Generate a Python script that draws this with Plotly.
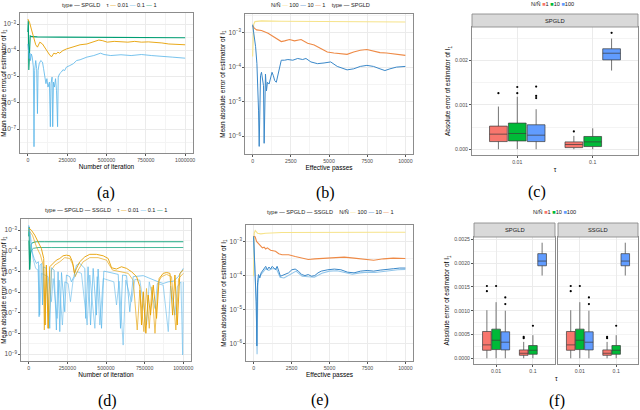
# Six-panel figure: SPGLD / SSGLD error curves (log scale) and boxplots of the absolute error
import plotly.graph_objects as go

FONT = "Liberation Sans, Arial, sans-serif"

# ---------------- data (x, log10 of error) ----------------
# (a) SPGLD, colour = tau
a_t001_x = [0, 11000, 22000, 35000, 50000, 61000, 76000, 93000, 108000, 126000, 141000, 152000, 165000, 180000,
            191000, 202000, 223000, 245000, 289000, 332000, 375000, 419000, 451000, 473000, 505000, 549000, 592000,
            636000, 679000, 722000, 766000, 809000, 852000, 896000, 939000, 1000000]
a_t001_y = [-2.81, -2.94, -3.19, -3.44, -3.79, -3.88, -3.69, -3.76, -3.91, -4.07, -4.20, -4.24, -4.11, -4.14,
            -4.07, -4.11, -4.01, -3.95, -3.86, -3.79, -3.76, -3.66, -3.61, -3.63, -3.69, -3.66, -3.67,
            -3.69, -3.66, -3.69, -3.68, -3.69, -3.72, -3.76, -3.78, -3.79]
a_t01_x = [0, 4000, 9000, 13000, 17000, 22000, 28000, 35000, 39000, 43000, 50000, 56000, 61000, 65000, 72000,
           82000, 93000, 100000, 108000, 115000, 121000, 128000, 137000, 143000, 147000, 154000, 158000, 163000,
           169000, 176000, 182000, 189000, 193000, 202000, 213000, 223000, 234000, 245000, 267000, 289000, 310000,
           332000, 375000, 419000, 462000, 484000, 527000, 592000, 657000, 722000, 787000, 852000, 918000, 1000000]
a_t01_y = [-3.76, -4.01, -4.32, -4.11, -4.39, -4.14, -4.26, -4.64, -7.67, -4.77, -4.39, -4.70, -6.41, -4.77, -4.51,
           -4.39, -4.45, -4.70, -5.02, -5.27, -5.08, -5.40, -5.21, -6.91, -5.27, -5.02, -6.91, -5.21,
           -5.40, -5.08, -5.52, -6.91, -5.02, -4.89, -4.83, -4.74, -4.77, -4.64, -4.58, -4.51, -4.39,
           -4.36, -4.26, -4.20, -4.11, -4.16, -4.20, -4.17, -4.20, -4.16, -4.20, -4.24, -4.26, -4.30]
a_t1_x = [0, 3000, 6000, 10000, 15000, 25000, 60000, 200000, 400000, 600000, 800000, 1000000]
a_t1_y = [-3.30, -2.87, -4.75, -3.70, -3.45, -3.48, -3.49, -3.50, -3.50, -3.51, -3.52, -3.52]

# (b) SPGLD, colour = N / N~
b_r100_x = [0, 65, 150, 580, 1875, 4030, 6185, 8340, 10000]
b_r100_y = [-3.69, -2.77, -2.68, -2.66, -2.67, -2.68, -2.68, -2.69, -2.69]
b_r1_x = [0, 108, 260, 580, 1010, 1335, 1550, 1875, 2090, 2415, 2740, 3170, 3600, 4030, 4460, 4890, 5320, 5750,
          6185, 6615, 7050, 7480, 7910, 8340, 8770, 9200, 9630, 10000]
b_r1_y = [-2.80, -2.87, -2.92, -2.94, -3.02, -3.12, -3.17, -3.26, -3.24, -3.20, -3.24, -3.20, -3.31, -3.36, -3.46,
          -3.56, -3.59, -3.61, -3.63, -3.56, -3.51, -3.49, -3.53, -3.58, -3.59, -3.61, -3.64, -3.66]
b_r10_x = [0, 108, 194, 280, 345, 388, 430, 475, 517, 580, 625, 668, 711, 754, 797, 840, 905, 970, 1078, 1185,
           1270, 1357, 1444, 1550, 1660, 1767, 1875, 2090, 2306, 2630, 2950, 3275, 3490, 3815, 4245, 4675, 5110,
           5540, 5860, 6185, 6615, 7050, 7480, 7910, 8340, 8660, 8990, 9420, 10000]
b_r10_y = [-2.77, -3.12, -3.41, -3.90, -4.49, -5.27, -6.30, -4.98, -4.25, -4.15, -4.29, -4.39, -4.54, -6.21, -4.29,
           -4.20, -4.69, -4.44, -4.49, -4.29, -4.15, -4.25, -4.39, -4.44, -4.25, -4.00, -3.80, -3.80, -3.78, -3.80,
           -3.75, -3.78, -3.75, -3.85, -3.90, -3.88, -3.85, -3.98, -4.02, -4.08, -4.05, -3.98, -3.95, -3.98, -4.05,
           -4.10, -4.05, -4.00, -3.98]

# (d) SPGLD and SSGLD, colour = tau
d_t1_sp_x = [0, 3000, 6000, 10000, 15000, 25000, 50000, 100000, 300000, 500000, 700000, 1000000]
d_t1_sp_y = [-3.30, -2.85, -4.90, -3.90, -3.70, -3.60, -3.56, -3.56, -3.56, -3.56, -3.56, -3.56]
d_t1_ss_x = [0, 3000, 6000, 12000, 20000, 30000, 60000, 150000, 400000, 700000, 1000000]
d_t1_ss_y = [-3.50, -4.00, -4.90, -4.10, -3.95, -3.88, -3.84, -3.84, -3.84, -3.84, -3.84]
d_t001_sp_x = [0, 17000, 39000, 60000, 82000, 97000, 106000, 114000, 125000, 136000, 158000, 179000, 201000,
               222000, 244000, 266000, 283000, 296000, 309000, 330000, 363000, 395000, 438000, 482000, 514000,
               536000, 568000, 600000, 633000, 665000, 698000, 719000, 730000, 741000, 758000, 773000, 788000,
               806000, 827000, 844000, 870000, 892000, 914000, 931000, 946000, 961000, 978000, 1000000]
d_t001_sp_y = [-2.89, -3.00, -3.24, -3.56, -3.89, -4.37, -7.59, -4.69, -7.75, -4.77, -4.61, -4.45, -4.37,
               -4.24, -4.21, -4.24, -4.53, -5.09, -4.85, -4.53, -4.29, -4.17, -4.17, -4.24, -4.37,
               -4.82, -4.88, -4.77, -4.85, -5.01, -5.25, -5.74, -7.59, -5.98, -7.99, -6.14, -7.11,
               -5.66, -7.27, -5.34, -5.09, -5.05, -5.09, -7.11, -5.17, -7.59, -5.09, -4.93]
d_t001_ss_x = [0, 24000, 50000, 76000, 93000, 101000, 114000, 130000, 147000, 168000, 201000, 233000, 266000,
               287000, 300000, 320000, 352000, 395000, 449000, 503000, 542000, 590000, 644000, 676000, 702000,
               719000, 745000, 762000, 780000, 797000, 817000, 838000, 860000, 892000, 924000, 952000, 970000,
               1000000]
d_t001_ss_y = [-3.00, -3.24, -3.80, -4.21, -4.69, -7.83, -4.85, -7.75, -4.93, -4.69, -4.53, -4.33, -4.37,
               -4.69, -5.25, -4.93, -4.53, -4.33, -4.33, -4.45, -4.93, -5.01, -5.09, -5.42, -7.83,
               -5.90, -7.91, -5.82, -7.75, -5.74, -7.99, -5.50, -5.25, -5.14, -5.25, -7.83, -5.34,
               -5.09]
d_t01_sp_x = [0, 11000, 22000, 35000, 50000, 63000, 67000, 73000, 84000, 89000, 95000, 114000, 136000, 147000,
              164000, 179000, 190000, 201000, 212000, 233000, 244000, 266000, 276000, 292000, 309000, 330000,
              363000, 369000, 384000, 400000, 417000, 438000, 449000, 471000, 486000, 503000, 525000, 557000,
              579000, 594000, 607000, 633000, 654000, 676000, 708000, 741000, 773000, 806000, 838000, 870000,
              903000, 935000, 968000, 1000000]
d_t01_sp_y = [-2.76, -3.24, -4.05, -4.37, -4.61, -4.53, -7.19, -4.69, -4.61, -6.62, -4.77, -4.85, -7.75, -4.82,
              -4.93, -7.83, -5.01, -7.91, -5.05, -6.95, -5.17, -5.25, -5.50, -5.25, -4.69, -4.61,
              -4.85, -7.27, -4.77, -7.59, -4.85, -7.11, -4.88, -7.75, -4.98, -5.01, -5.05, -5.09,
              -5.14, -7.75, -5.17, -5.20, -6.95, -5.25, -5.22, -5.20, -5.30, -5.42, -5.50, -5.58,
              -5.50, -5.47, -5.25, -4.85]
d_t01_ss_x = [0, 11000, 28000, 45000, 60000, 71000, 82000, 104000, 125000, 147000, 158000, 184000, 197000, 218000,
              233000, 255000, 270000, 287000, 313000, 341000, 378000, 395000, 428000, 443000, 460000, 482000,
              514000, 551000, 568000, 585000, 611000, 628000, 665000, 687000, 719000, 762000, 780000, 817000,
              832000, 870000, 903000, 918000, 946000, 961000, 985000, 996000, 1000000]
d_t01_ss_y = [-2.80, -3.56, -4.37, -4.85, -4.93, -7.11, -5.09, -5.17, -5.25, -6.46, -5.34, -7.27, -5.42, -7.59,
              -5.50, -5.58, -6.46, -5.42, -5.01, -5.09, -7.59, -5.17, -7.75, -5.25, -7.59, -5.34,
              -5.42, -5.50, -6.62, -5.47, -8.56, -5.42, -6.46, -5.38, -5.42, -7.59, -5.50, -6.79,
              -5.58, -5.66, -7.91, -5.70, -7.11, -5.74, -5.50, -9.04, -5.50]

# (e) SPGLD and SSGLD, colour = N / N~  (yellow and orange curves of both types overlap)
e_r100_x = [0, 43, 108, 260, 475, 800, 1875, 4030, 6185, 8340, 10000]
e_r100_y = [-4.02, -2.76, -2.68, -2.76, -2.78, -2.76, -2.74, -2.73, -2.73, -2.73, -2.73]
e_r1_x = [0, 108, 194, 366, 580, 690, 797, 905, 1120, 1444, 1660, 1875, 2306, 2740, 3170, 3600, 4030, 4675,
          5320, 5970, 6615, 7260, 7910, 8560, 9200, 10000]
e_r1_y = [-2.85, -2.87, -3.00, -3.10, -3.19, -3.17, -3.22, -3.19, -3.26, -3.29, -3.36, -3.39, -3.39, -3.44,
          -3.49, -3.53, -3.51, -3.49, -3.46, -3.46, -3.49, -3.53, -3.55, -3.51, -3.49, -3.50]
e_r10_sp_x = [0, 43, 86, 130, 172, 215, 260, 323, 410, 495, 580, 690, 797, 905, 1013, 1120, 1228, 1444, 1550,
              1660, 1767, 1875, 2090, 2306, 2520, 2740, 2950, 3170, 3384, 3600, 3815, 4030, 4245, 4460, 4890,
              5320, 5750, 6185, 6615, 7050, 7480, 7910, 8340, 8770, 9200, 9630, 10000]
e_r10_sp_y = [-2.85, -3.24, -4.02, -4.21, -4.75, -6.06, -4.21, -3.97, -4.07, -3.92, -3.87, -3.78, -3.73, -3.83,
              -3.75, -3.81, -3.73, -3.83, -3.73, -3.87, -4.02, -4.00, -3.97, -3.92, -3.83, -3.81, -3.87,
              -3.97, -4.00, -3.97, -4.02, -4.00, -3.92, -3.87, -3.83, -3.81, -3.83, -3.90, -3.92, -3.87,
              -3.85, -3.87, -3.84, -3.83, -3.80, -3.78, -3.78]
e_r10_ss_x = [0, 60, 120, 180, 230, 280, 350, 450, 600, 800, 1000, 1200, 1500, 1750, 2000, 2400, 2800, 3200,
              3600, 4000, 4500, 5000, 5500, 6000, 6500, 7000, 7500, 8000, 8500, 9000, 9500, 10000]
e_r10_ss_y = [-2.90, -3.50, -4.10, -4.90, -6.30, -4.30, -4.05, -4.00, -3.92, -3.80, -3.85, -3.80, -3.80, -4.05,
              -4.07, -3.97, -3.87, -4.02, -4.03, -4.05, -3.93, -3.87, -3.86, -3.90, -3.96, -3.92, -3.90, -3.91,
              -3.88, -3.86, -3.83, -3.82]

# ---------------- boxplot summaries: [tau][N/N~] ----------------
taus = ["0.01", "0.1"]
ratios = ["1", "10", "100"]
c_lo = [[0.0, 0.0, 0.0], [0.0, 0.0, 1.77e-3]]
c_q1 = [[1.72e-4, 1.86e-4, 1.72e-4], [0.36e-4, 0.60e-4, 2.01e-3]]
c_med = [[3.39e-4, 3.54e-4, 3.16e-4], [1.06e-4, 1.65e-4, 2.16e-3]]
c_q3 = [[5.20e-4, 5.88e-4, 5.50e-4], [1.65e-4, 2.87e-4, 2.26e-3]]
c_hi = [[9.6e-4, 1.18e-3, 9.0e-4], [3.0e-4, 4.7e-4, 2.49e-3]]
c_out = [[[1.26e-3], [1.26e-3, 1.40e-3], [1.15e-3, 1.20e-3, 1.41e-3]], [[4.0e-4], [], [2.62e-3]]]

# (f): SPGLD facet; the SSGLD facet reads the same
f_lo = [[0.0, 0.0, 0.0], [0.0, 0.0, 1.74e-3]]
f_q1 = [[1.69e-4, 1.83e-4, 1.76e-4], [0.63e-4, 0.85e-4, 1.945e-3]]
f_med = [[2.82e-4, 3.80e-4, 3.38e-4], [1.06e-4, 1.69e-4, 2.044e-3]]
f_q3 = [[5.64e-4, 6.13e-4, 5.57e-4], [1.76e-4, 2.68e-4, 2.20e-3]]
f_hi = [[1.01e-3, 1.18e-3, 1.0e-3], [3.45e-4, 4.86e-4, 2.43e-3]]
f_out = [[[1.41e-3, 1.52e-3], [1.52e-3], [1.14e-3, 1.28e-3]], [[4.23e-4, 4.5e-4], [6.84e-4], []]]

# ---------------- styling ----------------
TAU_COL = {"0.01": "#E69F00", "0.1": "#56B4E9", "1": "#009E73"}
RAT_COL = {"100": "#F6E38A", "10": "#3A88C9", "1": "#EE8A46"}
RAT_COL_LIGHT = "#93C6EA"
BOX_COL = ["#F8766D", "#00BA38", "#619CFF"]
dodge = [-0.25, 0.0, 0.25]

W, H = 640, 410


def dx(x0, x1):
    return [x0 / W, x1 / W]


def dy(y0, y1):
    return [1 - y1 / H, 1 - y0 / H]


fig = go.Figure()


def add_line(x, logy, color, ax, width=0.9, opacity=1.0):
    fig.add_trace(go.Scatter(x=x, y=[10 ** v for v in logy], mode="lines",
                             line=dict(color=color, width=width), opacity=opacity,
                             xaxis="x" + ax, yaxis="y" + ax, showlegend=False, hoverinfo="skip"))


def add_boxes(lo, q1, med, q3, hi, outs, ax):
    for i in range(len(taus)):
        for j in range(len(ratios)):
            pos = i + 1 + dodge[j]
            fig.add_trace(go.Box(x=[pos], lowerfence=[lo[i][j]], q1=[q1[i][j]], median=[med[i][j]],
                                 q3=[q3[i][j]], upperfence=[hi[i][j]], width=0.235, whiskerwidth=0,
                                 fillcolor=BOX_COL[j], line=dict(color="#3a3a3a", width=0.7),
                                 boxpoints=False, xaxis="x" + ax, yaxis="y" + ax, showlegend=False))
            if outs[i][j]:
                fig.add_trace(go.Scatter(x=[pos] * len(outs[i][j]), y=outs[i][j], mode="markers",
                                         marker=dict(size=2.2, color="black"),
                                         xaxis="x" + ax, yaxis="y" + ax, showlegend=False))


# (a)
add_line(a_t1_x, a_t1_y, TAU_COL["1"], "", width=1.1)
add_line(a_t001_x, a_t001_y, TAU_COL["0.01"], "")
add_line(a_t01_x, a_t01_y, TAU_COL["0.1"], "", width=0.8)
# (b)
add_line(b_r100_x, b_r100_y, RAT_COL["100"], "2", width=1.1)
add_line(b_r1_x, b_r1_y, RAT_COL["1"], "2", width=1.1)
add_line(b_r10_x, b_r10_y, RAT_COL["10"], "2", width=1.0)
# (c)
add_boxes(c_lo, c_q1, c_med, c_q3, c_hi, c_out, "3")
# (d)
add_line(d_t1_sp_x, d_t1_sp_y, TAU_COL["1"], "4")
add_line(d_t1_ss_x, d_t1_ss_y, TAU_COL["1"], "4", opacity=0.8)
add_line(d_t01_ss_x, d_t01_ss_y, TAU_COL["0.1"], "4", width=0.7, opacity=0.8)
add_line(d_t001_ss_x, d_t001_ss_y, TAU_COL["0.01"], "4", width=0.8, opacity=0.8)
add_line(d_t01_sp_x, d_t01_sp_y, TAU_COL["0.1"], "4", width=0.7)
add_line(d_t001_sp_x, d_t001_sp_y, TAU_COL["0.01"], "4", width=0.9)
# (e)
add_line(e_r100_x, e_r100_y, RAT_COL["100"], "5", width=1.1)
add_line(e_r1_x, e_r1_y, RAT_COL["1"], "5", width=1.1)
add_line(e_r10_ss_x, e_r10_ss_y, RAT_COL_LIGHT, "5", width=1.1)
add_line(e_r10_sp_x, e_r10_sp_y, RAT_COL["10"], "5", width=1.0)
# (f)
add_boxes(f_lo, f_q1, f_med, f_q3, f_hi, f_out, "6")
add_boxes(f_lo, f_q1, f_med, f_q3, f_hi, f_out, "7")

# ---------------- axes ----------------
tick_font = dict(family=FONT, size=5.2, color="#4D4D4D")
title_font = dict(family=FONT, size=6.5, color="black")
base = dict(showline=True, mirror=True, linecolor="#8C8C8C", linewidth=0.9, gridcolor="#EBEBEB",
            gridwidth=0.6, ticks="outside", ticklen=2, tickwidth=0.5, tickcolor="#555555",
            tickfont=tick_font, zeroline=False, title_font=title_font, automargin=False)
ylab = "Mean absolute error of estimator of I<sub>1</sub>"
boxlab = "Absolute error of estimator of I<sub>1</sub>"


def logy(dom, anchor, rng):
    return dict(base, domain=dom, anchor=anchor, type="log", range=rng, dtick=1, exponentformat="power",
                minor=dict(showgrid=True, gridcolor="#F4F4F4", dtick=1, tick0=0.5, ticks=""),
                title=dict(text=ylab, standoff=2))


def linx(dom, anchor, rng, step, title):
    return dict(base, domain=dom, anchor=anchor, range=rng, dtick=step, tick0=0, tickformat="d",
                minor=dict(showgrid=True, gridcolor="#F4F4F4", dtick=step / 2, ticks=""),
                title=dict(text=title, standoff=2))


def catx(dom, anchor, title=""):
    return dict(base, domain=dom, anchor=anchor, range=[0.4, 2.6], tickvals=[1, 2], ticktext=taus,
                title=dict(text=title, standoff=3))


fig.update_layout(
    xaxis=linx(dx(20, 193), "y", [-50000, 1050000], 250000, "Number of iteration"),
    yaxis=logy(dy(13, 153), "x", [-7.91, -2.58]),
    xaxis2=linx(dx(245, 413), "y2", [-500, 10500], 2500, "Effective passes"),
    yaxis2=logy(dy(14, 154), "x2", [-6.52, -2.46]),
    xaxis3=catx(dx(472, 638), "y3", "τ"),
    yaxis3=dict(base, domain=dy(27, 155), anchor="x3", range=[-0.00013, 0.00275], dtick=0.001,
                tickformat=".3f", minor=dict(showgrid=True, gridcolor="#F4F4F4", dtick=0.0005, ticks=""),
                title=dict(text=boxlab, standoff=3)),
    xaxis4=linx(dx(21, 191), "y4", [-50000, 1050000], 250000, "Number of iteration"),
    yaxis4=logy(dy(219, 361), "x4", [-9.33, -2.46]),
    xaxis5=linx(dx(246, 413), "y5", [-500, 10500], 2500, "Effective passes"),
    yaxis5=logy(dy(225, 361), "x5", [-6.50, -2.52]),
    xaxis6=catx(dx(474, 555), "y6"),
    yaxis6=dict(base, domain=dy(237, 364), anchor="x6", range=[-0.00012, 0.00255], dtick=0.0005,
                tickformat=".4f", minor=dict(showgrid=True, gridcolor="#F4F4F4", dtick=0.00025, ticks=""),
                title=dict(text=boxlab, standoff=3)),
    xaxis7=catx(dx(558, 638), "y7"),
    yaxis7=dict(base, domain=dy(237, 364), anchor="x7", matches="y6", showticklabels=False, ticks="",
                minor=dict(showgrid=True, gridcolor="#F4F4F4", dtick=0.00025, ticks="")),
)


def dash(color):
    return "<span style='color:%s'>\u2014</span>" % color


def sq(color):
    return "<span style='color:%s'>\u25A0</span>" % color


ann = []


def note(x, y, text, font):
    ann.append(dict(x=x / W, y=1 - y / H, xref="paper", yref="paper", text=text, showarrow=False,
                    font=font, xanchor="center", yanchor="middle"))


leg_font = dict(family=FONT, size=5.6, color="#1A1A1A")
type1 = "type " + dash("#000") + " SPGLD"
type2 = "type " + dash("#000") + " SPGLD " + dash("#000") + " SSGLD"
tau_leg = "τ " + "".join(dash(TAU_COL[t]) + " " + t + " " for t in ["0.01", "0.1", "1"])
rat_leg = "N/Ñ " + "".join(dash(RAT_COL[r]) + " " + r + " " for r in ["100", "10", "1"])
box_leg = "N/Ñ " + "".join(sq(BOX_COL[j]) + ratios[j] + " " for j in range(3))
legends = [(110, 5, type1 + "    " + tau_leg), (320, 5, rat_leg + "   " + type1), (553, 4, box_leg),
           (107, 210, type2 + "    " + tau_leg), (331, 212, type2 + "    " + rat_leg), (555, 212, box_leg)]
for x, y, t in legends:
    note(x, y, t, leg_font)

# strips
shapes = []
strips = [(472, 638, 14, 27, "SPGLD"), (474, 555, 223, 237, "SPGLD"), (558, 638, 223, 237, "SSGLD")]
for x0, x1, y0, y1, t in strips:
    shapes.append(dict(type="rect", xref="paper", yref="paper", x0=x0 / W, x1=x1 / W, y0=1 - y1 / H,
                       y1=1 - y0 / H, fillcolor="#D9D9D9", line=dict(color="#8C8C8C", width=0.9)))
    note((x0 + x1) / 2, (y0 + y1) / 2, t, dict(family=FONT, size=5.8, color="#1A1A1A"))

# x title shared by the two facets of (f)
note(556, 378, "τ", title_font)

# captions
caps = [(106, 193, "(a)"), (325, 193, "(b)"), (537, 192, "(c)"), (107, 401, "(d)"), (320, 400, "(e)"),
        (557, 401, "(f)")]
for x, y, t in caps:
    note(x, y, t, dict(family="Liberation Serif, DejaVu Serif, serif", size=16, color="black"))

fig.update_layout(width=W, height=H, margin=dict(l=0, r=0, t=0, b=0), paper_bgcolor="white",
                  plot_bgcolor="white", showlegend=False, boxmode="overlay", annotations=ann, shapes=shapes,
                  font=dict(family=FONT))

# page margin off so the 640x410 figure fills the window exactly; no mode bar
fig.write_html("out.html", config={"displayModeBar": False},
               post_script="document.body.style.margin = '0px';")
